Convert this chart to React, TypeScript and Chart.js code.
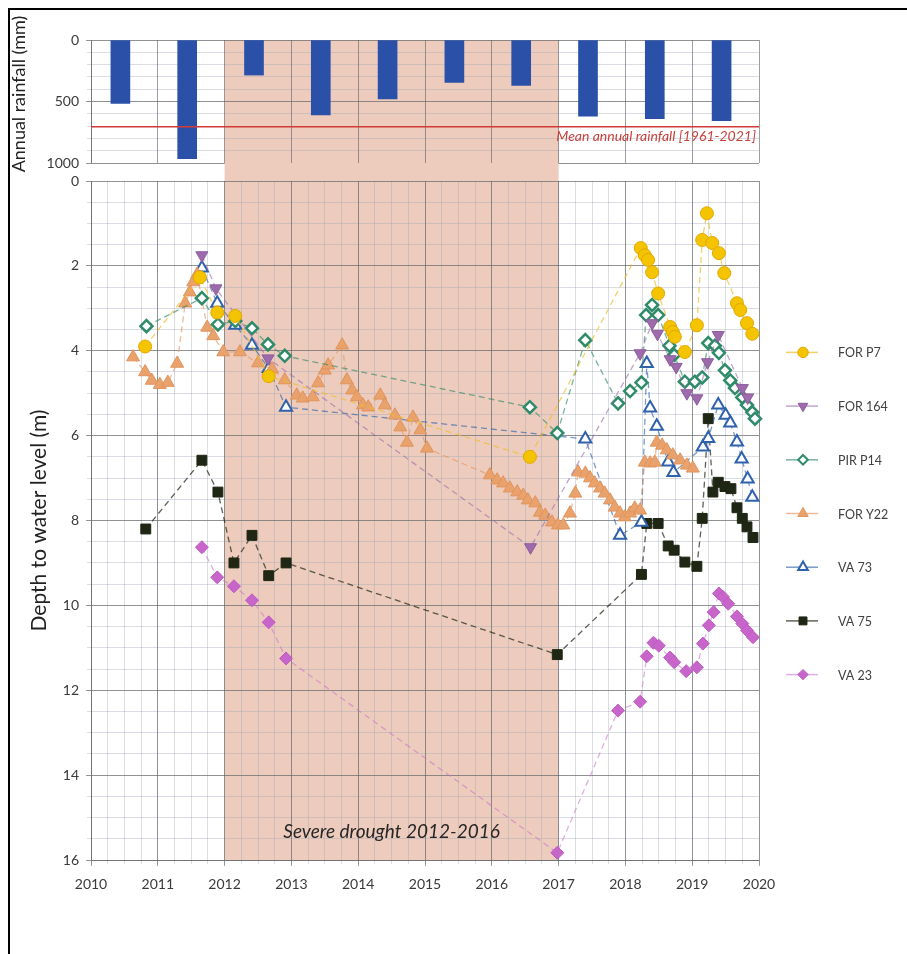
import React, { useEffect, useRef } from 'react';
import { Chart, registerables } from 'chart.js';

Chart.register(...registerables);

const FONT = 'Lato, "Open Sans", "Noto Sans", sans-serif';
Chart.defaults.font.family = FONT;

// ---------- axes / ticks ----------
const yearTicks = [2010, 2011, 2012, 2013, 2014, 2015, 2016, 2017, 2018, 2019, 2020];
const depthTicks = [0, 2, 4, 6, 8, 10, 12, 14, 16];
const rainTicks = [0, 500, 1000];

// ---------- annual rainfall ----------
const rainfallYearMid = [2010.44, 2011.44, 2012.44, 2013.44, 2014.44, 2015.44, 2016.44, 2017.44, 2018.44, 2019.44];
const rainfallMm = [515, 965, 285, 610, 480, 345, 370, 620, 640, 655];
const meanRainfallMm = 705;
const meanRainfallLabel = 'Mean annual rainfall [1961-2021]';

// ---------- drought ----------
const droughtStart = 2012;
const droughtEnd = 2017;
const droughtLabel = 'Severe drought 2012-2016';

// ---------- wells: depth to water level (m) ----------
const forP7X = [2010.81, 2011.63, 2011.89, 2012.16, 2012.66, 2016.57, 2018.23, 2018.29, 2018.34, 2018.40, 2018.49, 2018.67, 2018.71, 2018.74, 2018.89, 2019.07, 2019.15, 2019.22, 2019.30, 2019.40, 2019.48, 2019.67, 2019.72, 2019.82, 2019.90];
const forP7Y = [3.9, 2.27, 3.1, 3.18, 4.6, 6.5, 1.58, 1.75, 1.86, 2.15, 2.65, 3.44, 3.56, 3.67, 4.03, 3.4, 1.39, 0.76, 1.46, 1.7, 2.17, 2.88, 3.04, 3.35, 3.6];

const for164X = [2011.66, 2011.87, 2012.65, 2016.58, 2018.22, 2018.40, 2018.48, 2018.67, 2018.76, 2018.92, 2019.07, 2019.23, 2019.39, 2019.75, 2019.83];
const for164Y = [1.75, 2.53, 4.18, 8.63, 4.06, 3.35, 3.6, 4.2, 4.38, 5.0, 5.12, 4.27, 3.63, 4.88, 5.1];

const pirP14X = [2010.83, 2011.66, 2011.9, 2012.16, 2012.41, 2012.65, 2012.9, 2016.57, 2016.98, 2017.40, 2017.89, 2018.07, 2018.24, 2018.31, 2018.40, 2018.49, 2018.66, 2018.73, 2018.89, 2019.04, 2019.15, 2019.24, 2019.34, 2019.40, 2019.49, 2019.57, 2019.64, 2019.75, 2019.82, 2019.90, 2019.94];
const pirP14Y = [3.42, 2.76, 3.38, 3.3, 3.47, 3.85, 4.12, 5.33, 5.94, 3.75, 5.24, 4.95, 4.75, 3.16, 2.92, 3.16, 3.88, 4.1, 4.73, 4.73, 4.63, 3.82, 3.88, 4.05, 4.46, 4.7, 4.88, 5.1, 5.28, 5.45, 5.6];

const forY22X = [2010.63, 2010.81, 2010.91, 2011.03, 2011.15, 2011.29, 2011.41, 2011.48, 2011.53, 2011.59, 2011.74, 2011.83, 2011.98, 2012.23, 2012.50, 2012.71, 2012.90, 2013.08, 2013.17, 2013.32, 2013.40, 2013.50, 2013.55, 2013.76, 2013.83, 2013.91, 2013.98, 2014.07, 2014.15, 2014.33, 2014.40, 2014.55, 2014.63, 2014.73, 2014.82, 2014.93, 2015.03, 2015.97, 2016.08, 2016.17, 2016.27, 2016.38, 2016.47, 2016.54, 2016.65, 2016.72, 2016.80, 2016.90, 2016.99, 2017.07, 2017.17, 2017.25, 2017.29, 2017.40, 2017.47, 2017.54, 2017.62, 2017.69, 2017.77, 2017.84, 2017.92, 2017.99, 2018.07, 2018.14, 2018.22, 2018.29, 2018.37, 2018.44, 2018.47, 2018.55, 2018.62, 2018.71, 2018.82, 2018.92, 2019.01];
const forY22Y = [4.15, 4.5, 4.7, 4.8, 4.75, 4.3, 2.88, 2.62, 2.38, 2.2, 3.45, 3.65, 4.03, 4.03, 4.29, 4.43, 4.69, 5.05, 5.12, 5.09, 4.76, 4.46, 4.34, 3.87, 4.69, 4.93, 5.09, 5.28, 5.33, 5.05, 5.28, 5.52, 5.8, 6.16, 5.57, 5.87, 6.3, 6.93, 7.05, 7.12, 7.24, 7.33, 7.41, 7.52, 7.59, 7.81, 7.88, 8.04, 8.11, 8.11, 7.83, 7.36, 6.86, 6.89, 7.0, 7.12, 7.24, 7.36, 7.52, 7.69, 7.83, 7.92, 7.83, 7.71, 7.76, 6.63, 6.65, 6.63, 6.16, 6.23, 6.34, 6.46, 6.58, 6.7, 6.77];

const va73X = [2011.66, 2011.89, 2012.16, 2012.41, 2012.66, 2012.92, 2017.40, 2017.92, 2018.24, 2018.32, 2018.37, 2018.47, 2018.64, 2018.72, 2019.16, 2019.24, 2019.39, 2019.50, 2019.57, 2019.67, 2019.74, 2019.83, 2019.90];
const va73Y = [2.05, 2.88, 3.4, 3.87, 4.42, 5.33, 6.08, 8.35, 8.04, 4.3, 5.35, 5.78, 6.62, 6.87, 6.27, 6.07, 5.28, 5.52, 5.7, 6.15, 6.55, 7.02, 7.45];

const va75X = [2010.82, 2011.66, 2011.9, 2012.14, 2012.41, 2012.66, 2012.92, 2016.98, 2018.24, 2018.32, 2018.49, 2018.64, 2018.73, 2018.89, 2019.07, 2019.15, 2019.24, 2019.31, 2019.39, 2019.49, 2019.58, 2019.67, 2019.75, 2019.82, 2019.91];
const va75Y = [8.2, 6.58, 7.33, 9.0, 8.35, 9.3, 9.0, 11.16, 9.27, 8.07, 8.07, 8.6, 8.7, 8.98, 9.08, 7.95, 5.6, 7.33, 7.1, 7.2, 7.25, 7.7, 7.95, 8.15, 8.4];

const va23X = [2011.66, 2011.89, 2012.14, 2012.41, 2012.66, 2012.92, 2016.98, 2017.89, 2018.22, 2018.32, 2018.42, 2018.50, 2018.67, 2018.73, 2018.91, 2019.07, 2019.16, 2019.25, 2019.32, 2019.40, 2019.46, 2019.54, 2019.67, 2019.75, 2019.82, 2019.91];
const va23Y = [8.63, 9.34, 9.55, 9.88, 10.4, 11.25, 15.83, 12.48, 12.27, 11.2, 10.88, 10.95, 11.23, 11.34, 11.55, 11.46, 10.9, 10.47, 10.16, 9.72, 9.8, 9.96, 10.26, 10.43, 10.59, 10.75];

const seriesNames = ['FOR P7', 'FOR 164', 'PIR P14', 'FOR Y22', 'VA 73', 'VA 75', 'VA 23'];
const seriesX = [forP7X, for164X, pirP14X, forY22X, va73X, va75X, va23X];
const seriesY = [forP7Y, for164Y, pirP14Y, forY22Y, va73Y, va75Y, va23Y];

// ---------- styles ----------
const seriesStyles = [
  { pointStyle: 'circle', rotation: 0, radius: 6.5, fill: '#F5C400', stroke: '#E0A800', lw: 1, line: 'rgba(238,190,40,0.7)' },
  { pointStyle: 'triangle', rotation: 180, radius: 7, fill: '#9D6AAB', stroke: '#8E5C9E', lw: 1, line: 'rgba(150,105,170,0.6)' },
  { pointStyle: 'rectRot', rotation: 0, radius: 6, fill: '#FFFFFF', stroke: '#2F8B69', lw: 2.5, line: 'rgba(47,139,105,0.65)' },
  { pointStyle: 'triangle', rotation: 0, radius: 7.5, fill: '#E9A26C', stroke: '#E0945E', lw: 1, line: 'rgba(230,150,95,0.65)' },
  { pointStyle: 'triangle', rotation: 0, radius: 7, fill: '#FFFFFF', stroke: '#2F62AC', lw: 2, line: 'rgba(47,98,172,0.65)' },
  { pointStyle: 'rect', rotation: 0, radius: 7, fill: '#1F2613', stroke: '#1F2613', lw: 1, line: 'rgba(40,45,30,0.75)' },
  { pointStyle: 'rectRot', rotation: 0, radius: 6.5, fill: '#C865CB', stroke: '#BE5CC2', lw: 1, line: 'rgba(200,110,200,0.55)' },
];

const SHADE = '#EECCBD';
const GRID_MAJOR = 'rgba(95,95,95,0.6)';
const GRID_MINOR = 'rgba(150,160,178,0.35)';
const TICK_COLOR = '#3a3a3a';

function drawMarker(ctx: CanvasRenderingContext2D, style: string, x: number, y: number, r: number, rot: number, fill: string, stroke: string, lw: number) {
  ctx.save();
  ctx.translate(x, y);
  ctx.rotate((rot * Math.PI) / 180);
  ctx.beginPath();
  if (style === 'circle') {
    ctx.arc(0, 0, r, 0, Math.PI * 2);
  } else if (style === 'triangle') {
    for (let k = 0; k < 3; k++) {
      const a = (k * 2 * Math.PI) / 3;
      if (k === 0) ctx.moveTo(Math.sin(a) * r, -Math.cos(a) * r);
      else ctx.lineTo(Math.sin(a) * r, -Math.cos(a) * r);
    }
    ctx.closePath();
  } else if (style === 'rect') {
    const s = r * Math.SQRT1_2;
    ctx.rect(-s, -s, 2 * s, 2 * s);
  } else {
    ctx.moveTo(0, -r);
    ctx.lineTo(r, 0);
    ctx.lineTo(0, r);
    ctx.lineTo(-r, 0);
    ctx.closePath();
  }
  ctx.fillStyle = fill;
  ctx.fill();
  if (lw > 0) {
    ctx.lineWidth = lw;
    ctx.strokeStyle = stroke;
    ctx.stroke();
  }
  ctx.restore();
}

const shadePlugin = (fromCanvasTop: boolean) => ({
  id: 'droughtShade',
  beforeDraw(chart: any) {
    const { ctx, chartArea, scales } = chart;
    const x1 = scales.x.getPixelForValue(droughtStart);
    const x2 = scales.x.getPixelForValue(droughtEnd);
    const top = fromCanvasTop ? 0 : chartArea.top;
    ctx.save();
    ctx.fillStyle = SHADE;
    ctx.fillRect(x1, top, x2 - x1, chartArea.bottom - top);
    ctx.restore();
  },
});

const rainTextPlugin = {
  id: 'rainText',
  afterDraw(chart: any) {
    const { ctx, chartArea, scales } = chart;
    ctx.save();
    ctx.font = `italic 14px ${FONT}`;
    ctx.fillStyle = '#C8413C';
    ctx.textAlign = 'right';
    ctx.textBaseline = 'middle';
    ctx.fillText(meanRainfallLabel, chartArea.right - 3, scales.y.getPixelForValue(meanRainfallMm) + 10);
    ctx.restore();
    ctx.save();
    ctx.translate(9, 84);
    ctx.rotate(-Math.PI / 2);
    ctx.font = `18px ${FONT}`;
    ctx.fillStyle = '#222';
    ctx.textAlign = 'center';
    ctx.textBaseline = 'middle';
    ctx.fillText('Annual rainfall (mm)', 0, 0);
    ctx.restore();
  },
};

const droughtTextPlugin = {
  id: 'droughtText',
  beforeDatasetsDraw(chart: any) {
    const { ctx, chartArea, scales } = chart;
    const x = (scales.x.getPixelForValue(droughtStart) + scales.x.getPixelForValue(droughtEnd)) / 2;
    ctx.save();
    ctx.font = `italic 19px ${FONT}`;
    ctx.fillStyle = '#262626';
    ctx.textAlign = 'center';
    ctx.textBaseline = 'middle';
    ctx.fillText(droughtLabel, x, chartArea.bottom - 28);
    ctx.restore();
  },
};

const legendPlugin = {
  id: 'sideLegend',
  afterDraw(chart: any) {
    const { ctx, chartArea } = chart;
    const cy = (chartArea.top + chartArea.bottom) / 2 - 7;
    const gap = 53.7;
    ctx.save();
    seriesNames.forEach((name, i) => {
      const st = seriesStyles[i];
      const y = cy + (i - (seriesNames.length - 1) / 2) * gap;
      const x0 = chartArea.right + 27;
      ctx.strokeStyle = st.line;
      ctx.lineWidth = 1.5;
      ctx.setLineDash([]);
      ctx.beginPath();
      ctx.moveTo(x0, y);
      ctx.lineTo(x0 + 32, y);
      ctx.stroke();
      drawMarker(ctx, st.pointStyle, x0 + 17, y, st.radius * 0.8, st.rotation, st.fill, st.stroke, Math.min(st.lw, 2));
      ctx.font = `12.5px ${FONT}`;
      ctx.fillStyle = '#404040';
      ctx.textAlign = 'left';
      ctx.textBaseline = 'middle';
      ctx.fillText(name, x0 + 52, y + 1);
    });
    ctx.restore();
  },
};

const setTicks = (vals: number[]) => (axis: any) => {
  axis.ticks = vals.map((v) => ({ value: v }));
};

export default function App() {
  const topRef = useRef<HTMLCanvasElement>(null);
  const mainRef = useRef<HTMLCanvasElement>(null);

  useEffect(() => {
    const tickFont = { family: FONT, size: 14 };

    const rainChart = new Chart(topRef.current as HTMLCanvasElement, {
      type: 'bar',
      data: {
        datasets: [
          {
            type: 'line',
            label: 'Mean annual rainfall',
            data: [
              { x: yearTicks[0], y: meanRainfallMm },
              { x: yearTicks[yearTicks.length - 1], y: meanRainfallMm },
            ],
            borderColor: '#D23A36',
            borderWidth: 1.6,
            pointRadius: 0,
            order: 0,
          } as any,
          {
            type: 'bar',
            label: 'Annual rainfall',
            data: rainfallYearMid.map((x, i) => ({ x, y: rainfallMm[i] })),
            backgroundColor: '#2A50A8',
            barThickness: 19,
            order: 1,
          } as any,
        ],
      },
      options: {
        animation: false,
        responsive: false,
        maintainAspectRatio: false,
        layout: { padding: { left: 0, top: 30, right: 148, bottom: 17 } },
        plugins: { legend: { display: false }, tooltip: { enabled: false } },
        scales: {
          x: {
            type: 'linear',
            min: 2010,
            max: 2020,
            offset: false,
            weight: 1,
            afterBuildTicks: setTicks(yearTicks),
            ticks: { display: false },
            grid: { color: GRID_MAJOR, drawTicks: false, offset: false, z: -1 },
            border: { display: false },
            afterFit: (s: any) => { s.height = 0; },
          },
          y: {
            type: 'linear',
            reverse: true,
            min: 0,
            max: 1000,
            weight: 1,
            afterBuildTicks: setTicks(rainTicks),
            ticks: { font: tickFont, color: TICK_COLOR, padding: 7, callback: (v: any) => String(v) },
            grid: { color: GRID_MAJOR, tickLength: 5, z: -1 },
            border: { color: GRID_MAJOR },
            afterFit: (s: any) => { s.width = 81; },
          },
          yMinor: {
            type: 'linear',
            reverse: true,
            min: 0,
            max: 1000,
            weight: 0,
            ticks: { display: false, stepSize: 100, maxTicksLimit: 1000 },
            grid: { color: GRID_MINOR, tickLength: 4, z: -2 },
            border: { display: false },
            afterFit: (s: any) => { s.width = 0; },
          },
        } as any,
      },
      plugins: [shadePlugin(false), rainTextPlugin],
    } as any);

    const mainChart = new Chart(mainRef.current as HTMLCanvasElement, {
      type: 'line',
      data: {
        datasets: seriesNames.map((name, i) => {
          const st = seriesStyles[i];
          return {
            label: name,
            data: seriesX[i].map((x, j) => ({ x, y: seriesY[i][j] })),
            showLine: true,
            borderColor: st.line,
            borderWidth: 1.3,
            borderDash: [6, 4],
            fill: false,
            tension: 0,
            pointStyle: st.pointStyle,
            pointRotation: st.rotation,
            pointRadius: st.radius,
            pointBackgroundColor: st.fill,
            pointBorderColor: st.stroke,
            pointBorderWidth: st.lw,
            clip: 8,
          } as any;
        }),
      },
      options: {
        animation: false,
        responsive: false,
        maintainAspectRatio: false,
        layout: { padding: { left: 0, top: 18, right: 148, bottom: 50 } },
        plugins: { legend: { display: false }, tooltip: { enabled: false } },
        scales: {
          x: {
            type: 'linear',
            min: 2010,
            max: 2020,
            weight: 1,
            afterBuildTicks: setTicks(yearTicks),
            ticks: { font: tickFont, color: TICK_COLOR, padding: 10, maxRotation: 0, callback: (v: any) => String(v) },
            grid: { color: GRID_MAJOR, tickLength: 6, z: -1 },
            border: { color: GRID_MAJOR },
            afterFit: (s: any) => { s.height = 40; },
          },
          xMinor: {
            type: 'linear',
            min: 2010,
            max: 2020,
            weight: 0,
            ticks: { display: false, stepSize: 0.25, maxTicksLimit: 1000 },
            grid: { color: GRID_MINOR, tickLength: 4, z: -2 },
            border: { display: false },
            afterFit: (s: any) => { s.height = 0; },
          },
          y: {
            type: 'linear',
            reverse: true,
            min: 0,
            max: 16,
            weight: 1,
            afterBuildTicks: setTicks(depthTicks),
            ticks: { font: tickFont, color: TICK_COLOR, padding: 7, callback: (v: any) => String(v) },
            grid: { color: GRID_MAJOR, tickLength: 5, z: -1 },
            border: { color: GRID_MAJOR },
            title: {
              display: true,
              text: 'Depth to water level (m)',
              font: { family: FONT, size: 21 },
              color: '#222',
              padding: { top: 17, bottom: 0 },
            },
            afterFit: (s: any) => { s.width = 81; },
          },
          yMinor: {
            type: 'linear',
            reverse: true,
            min: 0,
            max: 16,
            weight: 0,
            ticks: { display: false, stepSize: 0.5, maxTicksLimit: 1000 },
            grid: { color: GRID_MINOR, tickLength: 4, z: -2 },
            border: { display: false },
            afterFit: (s: any) => { s.width = 0; },
          },
        } as any,
      },
      plugins: [shadePlugin(true), droughtTextPlugin, legendPlugin],
    } as any);

    return () => {
      rainChart.destroy();
      mainChart.destroy();
    };
  }, []);

  return (
    <div
      style={{
        position: 'absolute',
        left: 8,
        top: 8,
        width: 899,
        height: 946,
        borderTop: '2px solid #000',
        borderLeft: '2px solid #000',
        boxSizing: 'border-box',
        background: '#fff',
        overflow: 'hidden',
      }}
    >
      <canvas ref={topRef} width={897} height={170} style={{ position: 'absolute', left: 0, top: 0 }} />
      <canvas ref={mainRef} width={897} height={787} style={{ position: 'absolute', left: 0, top: 153 }} />
    </div>
  );
}
